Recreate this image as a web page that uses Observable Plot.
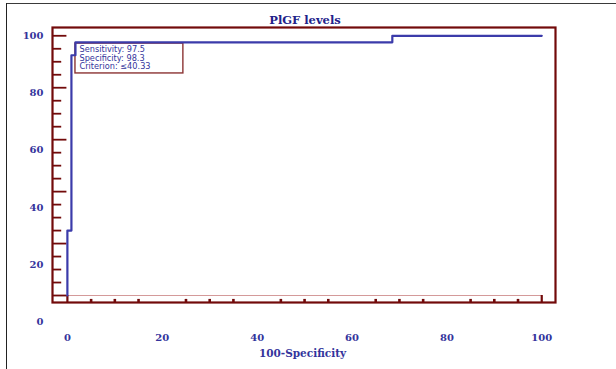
<!DOCTYPE html>
<html>
<head>
<meta charset="utf-8">
<script src="https://cdn.jsdelivr.net/npm/d3@7"></script>
<script src="https://cdn.jsdelivr.net/npm/@observablehq/plot@0.6"></script>
<style>
  body { margin: 0; background: #fff; }
  #wrap { position: relative; width: 616px; height: 369px; overflow: hidden; background: #fff; }
  #topline { position: absolute; left: 6px; top: 3px; right: 0; height: 0; border-top: 1.6px solid #3a3a3a; }
  #leftline { position: absolute; left: 6px; top: 3px; bottom: 0; width: 0; border-left: 1.6px solid #222; }
  #chart { position: absolute; left: 0; top: 0; }
</style>
</head>
<body>
<div id="wrap">
  <div id="chart"></div>
  <div id="topline"></div>
  <div id="leftline"></div>
</div>
<script>
// ROC curve data (100-Specificity vs Sensitivity)
const fpr  = [0, 0, 0.85, 1.7, 68.5, 100];
const sens = [0, 25, 92.5, 97.5, 100, 100];

// criterion annotation
const critFpr = 1.7;
const critSens = 97.5;
const critLines = ["Sensitivity: 97.5", "Specificity: 98.3", "Criterion: \u226440.33"];

// tick labels
const xTickLabels = [0, 20, 40, 60, 80, 100];
const yTickLabels = [0, 20, 40, 60, 80, 100];
const xMinorTicks = [5, 10, 15, 25, 30, 35, 45, 50, 55, 65, 70, 75, 85, 90, 95];
const xMajorTicks = [0, 100];
const yMajorTicks = [0, 20, 40, 60, 80, 100];
const yMinorTicks = [5, 10, 15, 25, 30, 35, 45, 50, 55, 65, 70, 75, 85, 90, 95];

const title = "PlGF levels";
const xTitle = "100-Specificity";

const roc = fpr.map((x, i) => ({x, y: sens[i]}));

const xDom = [-3.14, 102.9];
const yDom = [-2.69, 103.19];
const frameRed = "#720a0a";
const blueText = "#34349c";

// the y labels in the original are drawn on a slightly stretched label axis
const yLabelZero = -10.14;
const yLabelPos = v => yLabelZero + v * (100 - yLabelZero) / 100;

const chart = Plot.plot({
  width: 616,
  height: 369,
  marginLeft: 52,
  marginRight: 61,
  marginTop: 27,
  marginBottom: 67,
  x: {domain: xDom, axis: null},
  y: {domain: yDom, axis: null},
  style: {background: "transparent", overflow: "visible"},
  marks: [
    // pink baseline at 0
    Plot.ruleY([0], {x1: xDom[0], x2: 100, stroke: "#d49a9a", strokeWidth: 1}),
    // y ticks inside the frame
    Plot.ruleY(yMinorTicks, {y: d => d, x1: xDom[0], x2: -1.2, stroke: frameRed, strokeWidth: 1.8}),
    Plot.ruleY(yMajorTicks, {y: d => d, x1: xDom[0], x2: -0.1, stroke: frameRed, strokeWidth: 1.8}),
    // x ticks inside the frame
    Plot.ruleX(xMinorTicks, {x: d => d, y1: yDom[0], y2: -1.5, stroke: frameRed, strokeWidth: 2.6}),
    Plot.ruleX(xMajorTicks, {x: d => d, y1: yDom[0], y2: 0, stroke: frameRed, strokeWidth: 2.2}),
    // criterion box
    Plot.rect([0], {x1: critFpr, x2: 24.45, y1: 85.5, y2: 97.0, fill: "white", stroke: "#8b3333", strokeWidth: 1.4}),
    Plot.text([critLines.join("\n")], {
      x: critFpr, y: critSens, text: d => d, textAnchor: "start", lineAnchor: "top",
      dx: 4, dy: 3.6, fontSize: 8.2, lineHeight: 1.06, fill: blueText, fontFamily: "DejaVu Sans"
    }),
    // ROC curve
    Plot.line(roc, {x: "x", y: "y", curve: "step-after", stroke: "#3b3baa", strokeWidth: 2.2}),
    // frame
    Plot.frame({stroke: frameRed, strokeWidth: 2.2}),
    // y tick labels
    Plot.text(yTickLabels, {
      y: d => yLabelPos(d), text: d => String(d), frameAnchor: "left", textAnchor: "end", dx: -9,
      fill: blueText, fontFamily: "DejaVu Serif", fontWeight: "bold", fontSize: 10
    }),
    // x tick labels
    Plot.text(xTickLabels, {
      x: d => d, text: d => String(d), frameAnchor: "bottom", dy: 38,
      fill: blueText, fontFamily: "DejaVu Serif", fontWeight: "bold", fontSize: 10
    }),
    // x axis title
    Plot.text([xTitle], {
      text: d => d, frameAnchor: "bottom", dy: 54, dx: -1.5,
      fill: blueText, fontFamily: "DejaVu Serif", fontWeight: "bold", fontSize: 10.5
    }),
    // chart title
    Plot.text([title], {
      text: d => d, frameAnchor: "top", dy: -12, dx: 1,
      fill: "#22228a", fontFamily: "DejaVu Serif", fontWeight: "bold", fontSize: 11.5
    })
  ]
});
document.getElementById("chart").appendChild(chart);
</script>
</body>
</html>
